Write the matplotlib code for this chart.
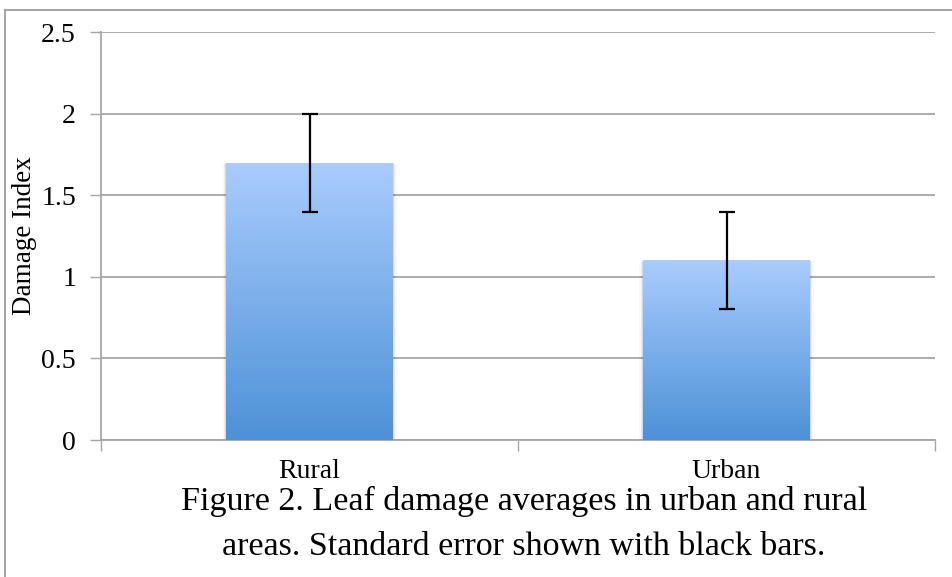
import numpy as np
import matplotlib
matplotlib.use('Agg')
import matplotlib.pyplot as plt
from matplotlib.colors import LinearSegmentedColormap
from matplotlib.patches import Rectangle

categories = ['Rural', 'Urban']
means = [1.70, 1.10]
std_err = [0.30, 0.30]
yticks = [0, 0.5, 1, 1.5, 2, 2.5]
ytick_labels = ['0', '0.5', '1', '1.5', '2', '2.5']

plt.rcParams['font.family'] = ['Liberation Serif', 'DejaVu Serif']

fig = plt.figure(figsize=(9.52, 5.77), dpi=100)
ax = fig.add_axes([101 / 952, 137 / 577, 834 / 952, 408 / 577])

grid_col = '#a6a6a6'
x = np.arange(len(categories))
bar_w = 0.4
bars = ax.bar(x, means, width=bar_w, color='none', edgecolor='none', zorder=3)

# gradient fill, light on top, darker at the bottom
grad = LinearSegmentedColormap.from_list('g', ['#4d91d6', '#aaccfe'])
for b in bars:
    x0, y0 = b.get_x(), b.get_y()
    w, h = b.get_width(), b.get_height()
    # faint shadow
    for k, a in enumerate([0.08, 0.05, 0.025]):
        d = 0.005 * (k + 1)
        ax.add_patch(Rectangle((x0 - d * 0.6, y0 - d * 1.2), w + d * 1.2, h + d * 0.6,
                               facecolor='black', edgecolor='none', alpha=a, zorder=2))
    im = ax.imshow(np.linspace(0, 1, 256).reshape(-1, 1), cmap=grad, aspect='auto',
                   extent=[x0, x0 + w, y0, y0 + h], origin='lower', zorder=3)
    im.set_clip_path(b)

ax.errorbar(x, means, yerr=std_err, fmt='none', ecolor='black', elinewidth=1.6,
            capsize=6, capthick=1.6, zorder=4)

ax.set_xlim(-0.5, 1.5)
ax.set_ylim(0, 2.5)
ax.set_yticks(yticks)
ax.set_yticklabels(ytick_labels)
ax.set_xticks([-0.5, 0.5, 1.5])
ax.set_xticklabels([])
ax.set_xticks(x, minor=True)
ax.set_xticklabels(categories, minor=True)
ax.tick_params(axis='x', which='minor', length=0, pad=14, labelsize=20)
ax.tick_params(axis='x', which='major', length=8, width=1, color=grid_col)
ax.tick_params(axis='y', length=8, width=1, color=grid_col, pad=10, labelsize=20)
ax.set_ylabel('Damage Index', fontsize=19.5, labelpad=3)
ax.grid(axis='y', color=grid_col, linewidth=1.3, zorder=0)
ax.set_axisbelow(True)
for s in ['top', 'right']:
    ax.spines[s].set_visible(False)
for s in ['left', 'bottom']:
    ax.spines[s].set_color(grid_col)
    ax.spines[s].set_linewidth(1.3)

fig.text(524 / 952, 1 - 501 / 577, 'Figure 2. Leaf damage averages in urban and rural',
         ha='center', va='center', fontsize=24.5)
fig.text(524 / 952, 1 - 547 / 577, 'areas. Standard error shown with black bars.',
         ha='center', va='center', fontsize=24.5)

# outer frame (left and top edges visible)
fig.add_artist(plt.Line2D([5 / 952, 5 / 952], [0, 1 - 10 / 577], transform=fig.transFigure,
                          color='#a6a6a6', linewidth=1.5))
fig.add_artist(plt.Line2D([5 / 952, 1], [1 - 10 / 577, 1 - 10 / 577], transform=fig.transFigure,
                          color='#a6a6a6', linewidth=1.5))

fig.savefig('out.png', dpi=100)
